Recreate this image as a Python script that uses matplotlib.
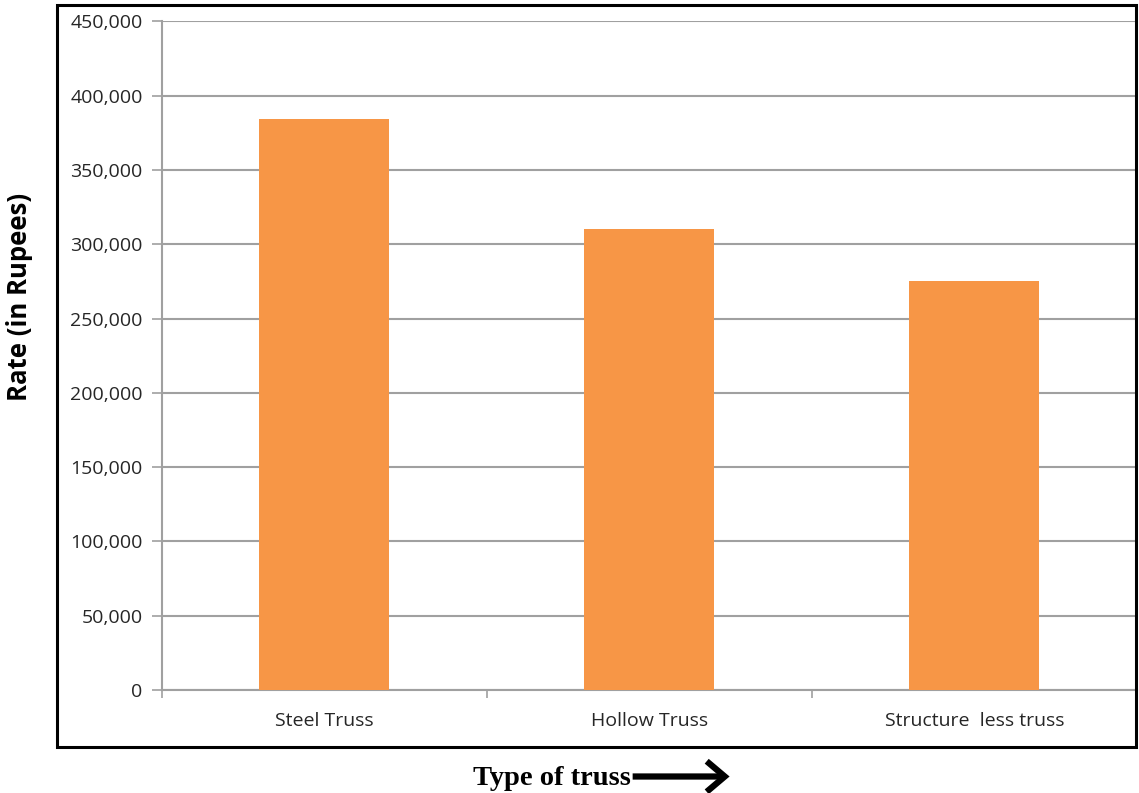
# Bar chart of rate per truss type
import matplotlib.pyplot as plt
from matplotlib.patches import Rectangle, FancyArrowPatch
from matplotlib.ticker import FuncFormatter, MultipleLocator

truss_types = ["Steel Truss", "Hollow Truss", "Structure  less truss"]
rates = [384000, 310000, 275000]

BAR_COLOR = "#F79646"
GRID_COLOR = "#A0A0A0"
TEXT_COLOR = "#262626"

fig = plt.figure(figsize=(11.39, 7.93), dpi=100)
ax = fig.add_axes([0.1422, 0.1299, 0.8560, 0.8432])

x = list(range(len(truss_types)))
ax.bar(x, rates, width=0.4, color=BAR_COLOR, zorder=3)

ax.set_xlim(-0.5, len(truss_types) - 0.5)
ax.set_ylim(0, 450000)
ax.yaxis.set_major_locator(MultipleLocator(50000))
ax.yaxis.set_major_formatter(FuncFormatter(lambda v, _: f"{int(v):,}"))
ax.grid(axis="y", color=GRID_COLOR, linewidth=1.5, zorder=0)

# category labels centred, ticks on the category boundaries
ax.set_xticks(x)
ax.set_xticklabels(truss_types)
ax.set_xticks([i - 0.5 for i in range(len(truss_types) + 1)], minor=True)
ax.tick_params(axis="x", which="major", length=0, pad=16)
ax.tick_params(axis="x", which="minor", length=6, width=1.2, color=GRID_COLOR, direction="out")
ax.tick_params(axis="y", length=7, width=1.2, color=GRID_COLOR, pad=7)
for lbl in ax.get_xticklabels() + ax.get_yticklabels():
    lbl.set_family("Open Sans")
    lbl.set_fontsize(14)
    lbl.set_color(TEXT_COLOR)

for side in ("top", "right"):
    ax.spines[side].set_visible(False)
for side in ("left", "bottom"):
    ax.spines[side].set_color(GRID_COLOR)
    ax.spines[side].set_linewidth(1.5)

# frame around the chart area
fig.add_artist(Rectangle((0.050, 0.0586), 0.9475, 0.9351, transform=fig.transFigure,
                         fill=False, edgecolor="black", linewidth=2.2))

fig.text(0.017, 0.625, "Rate (in Rupees)", rotation=90, ha="center", va="center",
         fontsize=18.5, fontweight="bold", family="Open Sans", color="black")

fig.text(0.554, 0.0101, "Type of truss", ha="right", va="baseline",
         fontsize=20.5, fontweight="bold", family="Liberation Serif", color="black")
fig.add_artist(FancyArrowPatch((0.553, 0.0208), (0.643, 0.0208), transform=fig.transFigure,
                               arrowstyle="->,head_length=13,head_width=11",
                               mutation_scale=1, linewidth=4.5, color="black",
                               joinstyle="miter", capstyle="butt"))

fig.savefig("out.png", dpi=100)
